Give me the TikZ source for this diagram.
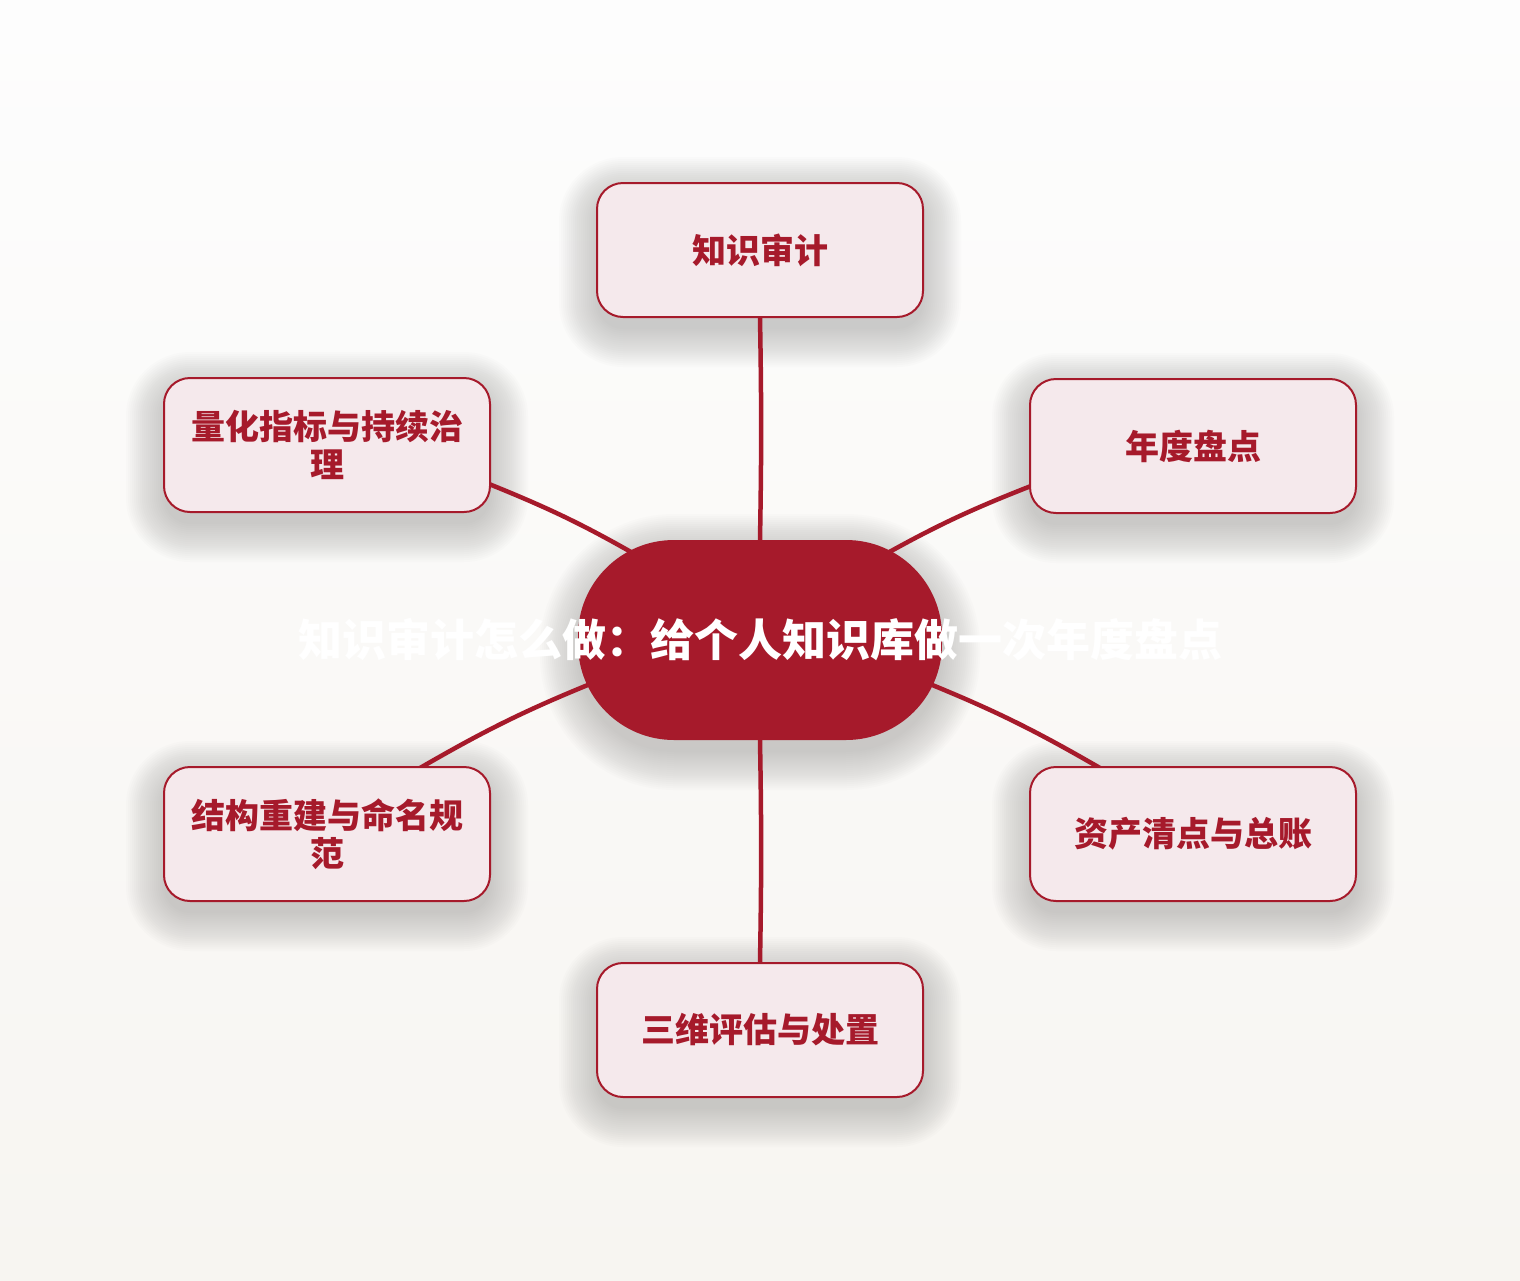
\documentclass[tikz,border=0pt]{standalone}
\usepackage{fontspec}
\newfontfamily\cjk{Noto Sans CJK SC}
\definecolor{dred}{HTML}{A61A2B}
\definecolor{lpink}{HTML}{F5E9EC}
\definecolor{bgtop}{HTML}{FDFDFD}
\definecolor{bgbot}{HTML}{F7F5F1}
\pgfdeclarelayer{shad}
\pgfdeclarelayer{links}
\pgfsetlayers{shad,links,main}
\newcommand\mysoftshadow[5]{%
  % #1 x, #2 y, #3 half width, #4 half height, #5 radius
  \foreach \i in {0,...,19}{
    \fill[black!60!bgbot, opacity=0.016, rounded corners={#5+2*\i}]
      ({#1-#3-2*\i},{#2+12-#4-2*\i}) rectangle ({#1+#3+2*\i},{#2+12+#4+2*\i});
  }%
}
\tikzset{
  leaf/.style={draw=dred, line width=2pt, fill=lpink, rounded corners=26pt,
    minimum width=326pt, minimum height=134pt, text width=290pt, align=center,
    text=dred, font=\cjk\bfseries\fontsize{34}{38}\selectfont, inner sep=0pt},
  hub/.style={fill=dred, rounded corners=96pt, minimum width=364pt, minimum height=200pt, inner sep=0pt},
  hubtext/.style={text=white, font=\cjk\bfseries\fontsize{44}{50}\selectfont, inner sep=0pt},
  link/.style={draw=dred, line width=4.5pt, line cap=round}
}
\begin{document}
\begin{tikzpicture}[x=1pt,y=-1pt]
\begin{pgfonlayer}{shad}
\shade[top color=bgtop, bottom color=bgbot] (0,0) rectangle (1520,1280);
\mysoftshadow{760}{250}{163}{67}{26}
\mysoftshadow{327}{445}{163}{67}{26}
\mysoftshadow{1193}{446}{163}{67}{26}
\mysoftshadow{327}{834}{163}{67}{26}
\mysoftshadow{1193}{834}{163}{67}{26}
\mysoftshadow{760}{1030}{163}{67}{26}
\mysoftshadow{760}{640}{182}{100}{96}
\end{pgfonlayer}
\useasboundingbox (0,0) rectangle (1520,1280);
% nodes
\node[leaf] (t) at (760,250) {知识审计};
\node[leaf] (ul) at (327,445) {量化指标与持续治\\理};
\node[leaf] (ur) at (1193,446) {年度盘点};
\node[leaf] (ll) at (327,834) {结构重建与命名规\\范};
\node[leaf] (lr) at (1193,834) {资产清点与总账};
\node[leaf] (b) at (760,1030) {三维评估与处置};
\node[hub] (c) at (760,640) {};
\node[hubtext] (ct) at (c) {知识审计怎么做：给个人知识库做一次年度盘点};
% connector end points
\coordinate (ulE) at (489,484);
\coordinate (urE) at (1031,486);
\coordinate (llE) at (420,768);
\coordinate (lrE) at (1100,768);
\coordinate (hUL) at (645,560);
\coordinate (hUR) at (875,560);
\coordinate (hLL) at (600,680);
\coordinate (hLR) at (920,680);
\begin{pgfonlayer}{links}
\draw[link] (t.south) to[bend left=1] (c.north);
\draw[link] (c.south) to[bend left=1] (b.north);
\draw[link] (ulE) to[bend left=4] (hUL);
\draw[link] (urE) to[bend right=4] (hUR);
\draw[link] (llE) to[bend left=4] (hLL);
\draw[link] (lrE) to[bend right=4] (hLR);
\end{pgfonlayer}
\end{tikzpicture}
\end{document}
